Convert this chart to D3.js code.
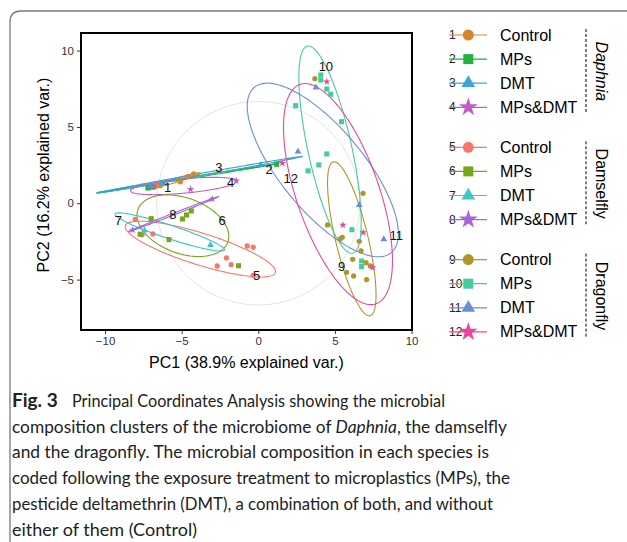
<!DOCTYPE html>
<html>
<head>
<meta charset="utf-8">
<script src="https://cdn.jsdelivr.net/npm/d3@7"></script>
<style>
  body { margin: 0; background: #fff; }
  svg { display: block; }
</style>
</head>
<body>
<svg id="container" width="627" height="542"></svg>
<script>
// groups: 0-3 Daphnia, 4-7 Damselfly, 8-11 Dragonfly (Control, MPs, DMT, MPs&DMT)
const species = ['Daphnia', 'Damselfly', 'Dragonfly'];
const treatments = ['Control', 'MPs', 'DMT', 'MPs&DMT'];
const groupNums = ['1','2','3','4','5','6','7','8','9','10','11','12'];

// points: [group, PC1, PC2]
const daphniaPts = [
  [0,-4.22,1.92],[0,-5.09,1.41],[0,-6.73,1.09],[0,-6.4,1.15],[0,-4.6,1.75],
  [1,1.2,2.55],[1,-6.9,1.05],[1,-7.2,1.0],
  [2,0.15,2.5],[2,-7.0,1.1],[2,-6.2,1.3],
  [3,-4.42,0.92],[3,-1.44,1.48],[3,-6.8,1.1]
];
const damselflyPts = [
  [4,-8.03,-1.05],[4,-6.88,-2.01],[4,-0.72,-2.80],[4,-0.33,-2.88],[4,-2.08,-3.58],
  [4,-1.77,-4.02],[4,-2.68,-4.11],[4,-0.33,-4.72],[4,-7.58,-2.07],
  [5,-4.37,-0.50],[5,-4.68,-0.77],[5,-4.95,-1.03],[5,-6.99,-1.01],[5,-7.71,-2.03],
  [5,-5.83,-2.38],[5,-1.29,-4.09],
  [6,-3.12,-2.73],[6,-7.42,-1.79],
  [7,-8.2,-1.75],[7,-3.0,0.28]
];
const dragonflyPts = [
  [8,3.69,8.16],[8,6.83,0.65],[8,4.52,-1.42],[8,5.48,-2.23],[8,5.34,-2.34],[8,6.59,-2.49],
  [8,6.70,-3.12],[8,6.16,-3.67],[8,7.03,-3.89],[8,7.31,-4.11],[8,5.76,-4.52],[8,6.22,-4.76],[8,7.07,-5.0],
  [9,4.08,8.40],[9,4.08,8.07],[9,4.47,7.48],[9,4.73,7.14],[9,2.44,6.39],[9,5.43,5.34],
  [9,4.47,3.23],[9,3.95,2.51],[9,3.25,2.12],[9,6.11,-1.73],[9,6.74,-3.78],[9,6.74,-4.15],
  [10,3.76,7.58],[10,2.59,3.38],[10,6.59,-0.11],[10,8.19,-2.36],
  [11,1.57,2.62],[11,4.47,7.96],[11,5.52,-1.42],[11,6.85,-1.92],[11,7.47,-4.2]
];

// ellipses: centre, semi-axes, angle (deg)
const ellCx  = [-5.42,-4.6,-3.84,-4.87,-3.78,-4.92,-5.78,-5.53, 6.10, 4.68, 4.21, 5.2];
const ellCy  = [ 1.49, 1.65, 1.86, 1.13,-3.0,-1.47,-1.88,-0.71,-2.33, 3.51, 2.18, 0.6];
const ellA   = [ 1.71, 5.98, 6.82, 3.49, 5.13, 3.12, 3.76, 3.16, 5.18, 6.94, 7.02, 7.6];
const ellB   = [ 0.13, 0.05, 0.08, 0.47, 1.04, 1.82, 0.44, 0.06, 1.06, 1.43, 2.71, 2.7];
const ellAng = [ 16.6, 9.15,10.17,  5.3,-17.4,-20.1,-18.3, 21.3,103.4,102.3,-50.5,-71];

// group label positions
const labX = [-5.92, 0.70,-2.58,-1.81,-0.11,-2.36,-9.13,-5.57, 5.43, 4.41, 9.0, 2.12];
const labY = [ 1.02, 2.18, 2.33, 1.35,-4.72,-1.16,-1.14,-0.76,-4.15, 8.95,-2.14, 1.64];

const xTicks = [-10, -5, 0, 5, 10];
const yTicks = [-5, 0, 5, 10];
const circleR = 6.64;

const palette = ['#D4862B','#22B33A','#39A3DA','#C75BC6',
                 '#F8766D','#73A81B','#3CC6C8','#A566D6',
                 '#B0962A','#45CC9B','#6B8FD0','#E8489A'];
const shapes = [d3.symbolCircle, d3.symbolSquare, d3.symbolTriangle, d3.symbolStar];

const captionLines = [
  'Principal Coordinates Analysis showing the microbial',
  'composition clusters of the microbiome of |Daphnia|, the damselfly',
  'and the dragonfly. The microbial composition in each species is',
  'coded following the exposure treatment to microplastics (MPs), the',
  'pesticide deltamethrin (DMT), a combination of both, and without',
  'either of them (Control)'
];
const captionWidths = [373, 495, 477, 498, 481, 185];

const svg = d3.select('#container');
const font = "'Liberation Sans', Arial, Helvetica, sans-serif";

// card border
svg.append('path')
  .attr('d', 'M10,542 V22 Q10,11 21,11 H627')
  .attr('fill', 'none').attr('stroke', '#7a7a7a').attr('stroke-width', 1.3);

const pLeft = 81, pRight = 412, pTop = 33, pBottom = 330;
const x = d3.scaleLinear().domain([-11.57, 10.03]).range([pLeft, pRight]);
const y = d3.scaleLinear().domain([-8.3, 11.15]).range([pBottom, pTop]);

const plot = svg.append('g');

// reference circle
plot.append('circle')
  .attr('cx', x(0)).attr('cy', y(0))
  .attr('r', x(circleR) - x(0))
  .attr('fill', 'none').attr('stroke', '#e4e4e4').attr('stroke-width', 1);

// ellipses
const ellLine = d3.line().x(d => x(d[0])).y(d => y(d[1])).curve(d3.curveLinearClosed);
function ellPoints(i) {
  const th = ellAng[i] * Math.PI / 180;
  return d3.range(0, 360, 2).map(t => {
    const r = t * Math.PI / 180;
    const ex = ellA[i] * Math.cos(r), ey = ellB[i] * Math.sin(r);
    return [ellCx[i] + ex * Math.cos(th) - ey * Math.sin(th),
            ellCy[i] + ex * Math.sin(th) + ey * Math.cos(th)];
  });
}
plot.selectAll('path.ell')
  .data(d3.range(12))
  .enter().append('path')
  .attr('class', 'ell')
  .attr('d', i => ellLine(ellPoints(i)))
  .attr('fill', 'none')
  .attr('stroke', i => palette[i])
  .attr('stroke-width', 1.1);

// points
const allPts = daphniaPts.concat(damselflyPts, dragonflyPts);
const ptSize = [22, 26, 20, 18];
plot.selectAll('path.pt')
  .data(allPts)
  .enter().append('path')
  .attr('class', 'pt')
  .attr('transform', d => `translate(${x(d[1])},${y(d[2])})`)
  .attr('d', d => d3.symbol().type(shapes[d[0] % 4]).size(ptSize[d[0] % 4])())
  .attr('fill', d => palette[d[0]]);

// group labels
plot.selectAll('text.lab')
  .data(d3.range(12))
  .enter().append('text')
  .attr('class', 'lab')
  .attr('x', i => x(labX[i])).attr('y', i => y(labY[i]))
  .attr('text-anchor', 'middle').attr('dominant-baseline', 'central')
  .attr('font-family', font).attr('font-size', 13).attr('fill', '#111')
  .text(i => groupNums[i]);

// frame
svg.append('rect')
  .attr('x', pLeft).attr('y', pTop)
  .attr('width', pRight - pLeft).attr('height', pBottom - pTop)
  .attr('fill', 'none').attr('stroke', '#000').attr('stroke-width', 2);

// axes
const xAxis = svg.append('g')
  .attr('transform', `translate(0,${pBottom + 1})`)
  .call(d3.axisBottom(x).tickValues(xTicks).tickSize(3).tickPadding(3));
const yAxis = svg.append('g')
  .attr('transform', `translate(${pLeft - 1},0)`)
  .call(d3.axisLeft(y).tickValues(yTicks).tickSize(3).tickPadding(3));
[xAxis, yAxis].forEach(a => {
  a.select('.domain').remove();
  a.selectAll('line').attr('stroke', '#333');
  a.selectAll('text').attr('font-family', font).attr('font-size', 11.5).attr('fill', '#333');
});

svg.append('text')
  .attr('x', (pLeft + pRight) / 2).attr('y', 368)
  .attr('text-anchor', 'middle')
  .attr('font-family', font).attr('font-size', 16).attr('fill', '#000')
  .text('PC1 (38.9% explained var.)');
svg.append('text')
  .attr('transform', 'translate(49,175) rotate(-90)')
  .attr('text-anchor', 'middle')
  .attr('font-family', font).attr('font-size', 16).attr('fill', '#000')
  .text('PC2 (16.2% explained var.)');

// legend
const legend = svg.append('g');
const rowY = (g, t) => 35 + g * 112.3 + t * 24.1;
const legSize = [95, 100, 80, 110];
species.forEach((sp, g) => {
  treatments.forEach((tr, t) => {
    const i = g * 4 + t, yy = rowY(g, t);
    legend.append('text')
      .attr('x', 449).attr('y', yy)
      .attr('dominant-baseline', 'central')
      .attr('font-family', font).attr('font-size', 12).attr('fill', '#222')
      .text(groupNums[i]);
    legend.append('line')
      .attr('x1', 449).attr('x2', 487).attr('y1', yy).attr('y2', yy)
      .attr('stroke', palette[i]).attr('stroke-width', 1.2);
    legend.append('path')
      .attr('transform', `translate(468.3,${yy})`)
      .attr('d', d3.symbol().type(shapes[t]).size(legSize[t])())
      .attr('fill', palette[i]);
    legend.append('text')
      .attr('x', 500).attr('y', yy)
      .attr('dominant-baseline', 'central')
      .attr('font-family', font).attr('font-size', 16).attr('fill', '#000')
      .text(tr);
  });
  const y0 = rowY(g, 0) - 6, y1 = rowY(g, 3) + 6.5;
  legend.append('line')
    .attr('x1', 586).attr('x2', 586).attr('y1', y0).attr('y2', y1)
    .attr('stroke', '#000').attr('stroke-width', 1).attr('stroke-dasharray', '3,2');
  legend.append('text')
    .attr('transform', `translate(596,${(y0 + y1) / 2}) rotate(90)`)
    .attr('text-anchor', 'middle')
    .attr('font-family', font).attr('font-size', 16)
    .attr('font-style', g === 0 ? 'italic' : 'normal')
    .text(sp);
});

// caption
const capFont = "Lato, 'Open Sans', sans-serif";
captionLines.forEach((line, k) => {
  const t = svg.append('text')
    .attr('x', k === 0 ? 72 : 12)
    .attr('y', 407 + k * 25.7)
    .attr('font-family', capFont).attr('font-size', 17.5).attr('fill', '#222')
    .attr('textLength', captionWidths[k])
    .attr('lengthAdjust', 'spacingAndGlyphs');
  line.split('|').forEach((part, j) => {
    t.append('tspan').attr('font-style', j % 2 ? 'italic' : 'normal').text(part);
  });
});
svg.append('text')
  .attr('x', 12).attr('y', 407)
  .attr('font-family', capFont).attr('font-size', 19).attr('font-weight', 'bold').attr('fill', '#222')
  .text('Fig. 3');
</script>
</body>
</html>
